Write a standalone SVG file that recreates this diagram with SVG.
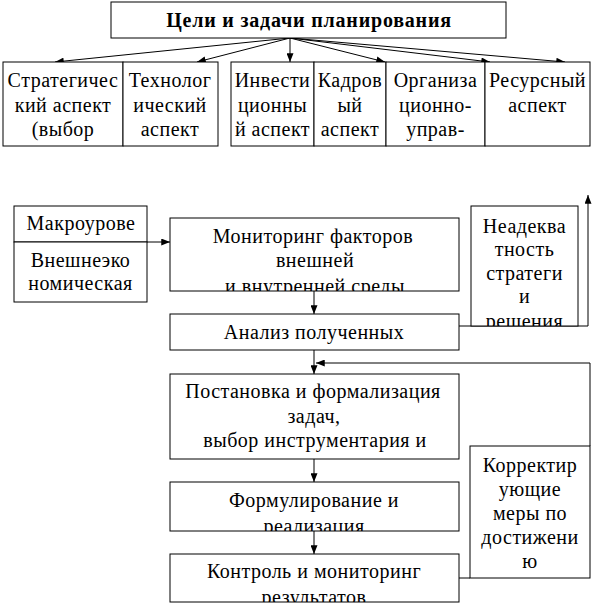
<svg xmlns="http://www.w3.org/2000/svg" width="597" height="615" viewBox="0 0 597 615">
<style>
.box{fill:#fff;stroke:#000;stroke-width:1}
.ln{fill:none;stroke:#000;stroke-width:1}
.t{font-family:"Liberation Serif",serif;font-size:20px;letter-spacing:0.5px;text-anchor:middle;fill:#000}
.b{font-weight:bold;letter-spacing:0.8px}
</style>
<defs>
<marker id="ah" viewBox="0 0 10 8" refX="10" refY="4" markerWidth="9" markerHeight="7" markerUnits="userSpaceOnUse" orient="auto">
<path d="M0,0 L10,4 L0,8 Z" fill="#000"/>
</marker>
<clipPath id="cMon"><rect x="170" y="218" width="289" height="73"/></clipPath>
<clipPath id="cAn"><rect x="170" y="314" width="289" height="36"/></clipPath>
<clipPath id="cNe"><rect x="471" y="206" width="107" height="120"/></clipPath>
<clipPath id="cFo"><rect x="170" y="482" width="289" height="49"/></clipPath>
<clipPath id="cKo"><rect x="170" y="554" width="289" height="48"/></clipPath>
<clipPath id="cMa"><rect x="14" y="206" width="133" height="36"/></clipPath>
</defs>

<g id="connectors">
<line class="ln" x1="290" y1="38" x2="55" y2="62" marker-end="url(#ah)"/>
<line class="ln" x1="290" y1="38" x2="197" y2="62" marker-end="url(#ah)"/>
<line class="ln" x1="290" y1="38" x2="290" y2="62" marker-end="url(#ah)"/>
<line class="ln" x1="290" y1="38" x2="385" y2="62" marker-end="url(#ah)"/>
<line class="ln" x1="290" y1="38" x2="490" y2="62" marker-end="url(#ah)"/>
<line class="ln" x1="290" y1="38" x2="565" y2="62" marker-end="url(#ah)"/>
<line class="ln" x1="147" y1="242" x2="170" y2="242" marker-end="url(#ah)"/>
<line class="ln" x1="314" y1="291" x2="314" y2="314" marker-end="url(#ah)"/>
<line class="ln" x1="314" y1="350" x2="314" y2="374" marker-end="url(#ah)"/>
<line class="ln" x1="314" y1="459" x2="314" y2="482" marker-end="url(#ah)"/>
<line class="ln" x1="314" y1="531" x2="314" y2="554" marker-end="url(#ah)"/>
<polyline class="ln" points="459,326 588,326 588,195" marker-end="url(#ah)"/>
<polyline class="ln" points="590,446 590,363 316,363" marker-end="url(#ah)"/>
<line class="ln" x1="459" y1="578" x2="470" y2="578"/>
</g>

<g id="title">
<rect class="box" x="111" y="2" width="395" height="36"/>
<text class="t b" x="309" y="27">Цели и задачи планирования</text>
</g>

<g id="strategic">
<rect class="box" x="3" y="62" width="120" height="84"/>
<text class="t" x="63" y="87">Стратегичес</text>
<text class="t" x="63" y="112">кий аспект</text>
<text class="t" x="63" y="136">(выбор</text>
</g>
<g id="tech">
<rect class="box" x="123" y="62" width="95" height="84"/>
<text class="t" x="170" y="87">Технолог</text>
<text class="t" x="170" y="112">ический</text>
<text class="t" x="170" y="136">аспект</text>
</g>
<g id="invest">
<rect class="box" x="231" y="62" width="83" height="84"/>
<text class="t" x="272.5" y="87">Инвести</text>
<text class="t" x="272.5" y="112">ционны</text>
<text class="t" x="272.5" y="136">й аспект</text>
</g>
<g id="staff">
<rect class="box" x="314" y="62" width="72" height="84"/>
<text class="t" x="350" y="87">Кадров</text>
<text class="t" x="350" y="112">ый</text>
<text class="t" x="350" y="136">аспект</text>
</g>
<g id="org">
<rect class="box" x="386" y="62" width="99" height="84"/>
<text class="t" x="435.5" y="87">Организа</text>
<text class="t" x="435.5" y="112">ционно-</text>
<text class="t" x="435.5" y="136">управ-</text>
</g>
<g id="resource">
<rect class="box" x="485" y="62" width="105" height="84"/>
<text class="t" x="537.5" y="87">Ресурсный</text>
<text class="t" x="537.5" y="112">аспект</text>
</g>

<g id="macro">
<rect class="box" x="14" y="206" width="133" height="36"/>
<g clip-path="url(#cMa)"><text class="t" x="81" y="230">Макроурове</text></g>
</g>
<g id="external">
<rect class="box" x="14" y="242" width="133" height="60"/>
<text class="t" x="80.5" y="267">Внешнеэко</text>
<text class="t" x="80.5" y="290">номическая</text>
</g>

<g id="monitoring">
<rect class="box" x="170" y="218" width="289" height="73"/>
<g clip-path="url(#cMon)">
<text class="t" x="313" y="243">Мониторинг факторов</text>
<text class="t" x="315" y="267">внешней</text>
<text class="t" x="315" y="293">и внутренней среды</text>
</g>
</g>

<g id="analysis">
<rect class="box" x="170" y="314" width="289" height="36"/>
<g clip-path="url(#cAn)"><text class="t" x="314" y="339">Анализ полученных</text></g>
</g>

<g id="inadequacy">
<rect class="box" x="471" y="206" width="107" height="120"/>
<g clip-path="url(#cNe)">
<text class="t" x="524.5" y="233">Неадеква</text>
<text class="t" x="524.5" y="256">тность</text>
<text class="t" x="524.5" y="280">стратеги</text>
<text class="t" x="524.5" y="303">и</text>
<text class="t" x="524.5" y="328">решения</text>
</g>
</g>

<g id="setting">
<rect class="box" x="170" y="374" width="289" height="85"/>
<text class="t" x="313" y="398">Постановка и формализация</text>
<text class="t" x="314" y="423">задач,</text>
<text class="t" x="315" y="447">выбор инструментария и</text>
</g>

<g id="formulation">
<rect class="box" x="170" y="482" width="289" height="49"/>
<g clip-path="url(#cFo)">
<text class="t" x="314" y="507">Формулирование и</text>
<text class="t" x="314" y="533">реализация</text>
</g>
</g>

<g id="control">
<rect class="box" x="170" y="554" width="289" height="48"/>
<g clip-path="url(#cKo)">
<text class="t" x="314" y="578">Контроль и мониторинг</text>
<text class="t" x="314" y="604">результатов</text>
</g>
</g>

<g id="corrective">
<rect class="box" x="470" y="446" width="120" height="132"/>
<text class="t" x="530" y="472">Корректир</text>
<text class="t" x="530" y="496">ующие</text>
<text class="t" x="530" y="520">меры по</text>
<text class="t" x="530" y="544">достижени</text>
<text class="t" x="530" y="568">ю</text>
</g>
</svg>
